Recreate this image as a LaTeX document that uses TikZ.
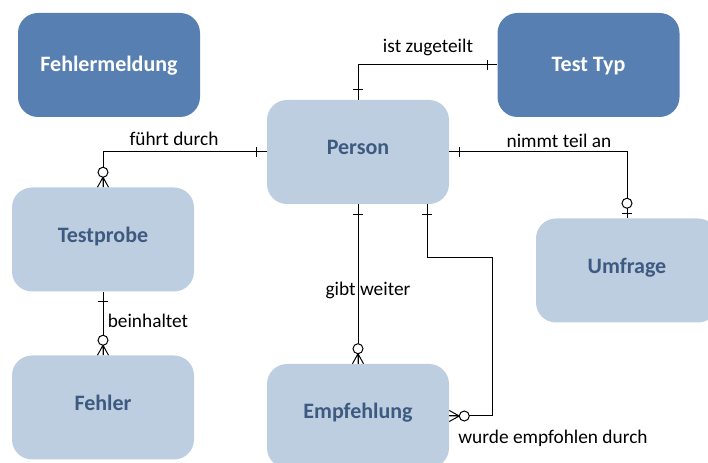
\documentclass[tikz,border=0pt]{standalone}
\usepackage{fontspec}
\setmainfont{Carlito}
\usetikzlibrary{calc}

\definecolor{entdark}{RGB}{87,127,178}
\definecolor{entlight}{RGB}{190,206,225}
\definecolor{enttext}{RGB}{62,90,128}

\tikzset{
	entity/.style={rounded corners=15pt, minimum width=136.5pt, minimum height=78pt, inner sep=0pt, text height=12pt, font=\fontsize{16.5}{19}\selectfont\bfseries},
	strong/.style={entity, text depth=1.5pt, fill=entdark, text=white},
	weak/.style={entity, text depth=7.5pt, fill=entlight, text=enttext},
	rel/.style={draw=black, line width=0.75pt},
	lbl/.style={inner sep=0pt, font=\fontsize{14.5}{17}\selectfont},
	one/.pic={\draw[rel] (10,-5) -- (10,5);},
	one opt/.pic={
		\draw[rel] (5,-5) -- (5,5);
		\draw[rel, fill=white] (15,0) circle[radius=5];
	},
	many opt/.pic={
		\draw[rel] (0,-5.5) -- (10,0) -- (0,5.5) (0,0) -- (10,0);
		\draw[rel, fill=white] (15,0) circle[radius=5];
	},
}

\begin{document}
\begin{tikzpicture}[x=0.75pt,y=-0.75pt]
\useasboundingbox (0,0) rectangle (708,463);
\clip (0,0) rectangle (708,463);

\node[strong] (fehlermeldung) at (109,65) {Fehlermeldung};
\node[strong] (testtyp) at (588.5,65) {Test Typ};
\node[weak] (person) at (358,152) {Person};
\node[weak] (testprobe) at (103,239.5) {Testprobe};
\node[weak] (fehler) at (103,407.5) {Fehler};
\node[weak] (empfehlung) at (358,416) {Empfehlung};
\node[weak] (umfrage) at (627,270.5) {Umfrage};

\draw[rel] (person.north) |- (testtyp.west);
\draw[rel] (person.west) -| (testprobe.north);
\draw[rel] (person.east) -| (umfrage.north);
\draw[rel] (testprobe.south) -- (fehler.north);
\draw[rel] (person.south) -- (empfehlung.north);
\draw[rel] ($(person.south)+(69,0)$) coordinate (recstart) -- ++(0,53) -| ($(empfehlung.east)+(43,0)$) -- (empfehlung.east);

% cardinality marks
\path (person.north) pic[rotate=90] {one}
	(testtyp.west) pic[rotate=180] {one}
	(person.west) pic[rotate=180] {one}
	(testprobe.north) pic[rotate=90] {many opt}
	(person.east) pic {one}
	(umfrage.north) pic[rotate=90] {one opt}
	(testprobe.south) pic[rotate=-90] {one}
	(fehler.north) pic[rotate=90] {many opt}
	(person.south) pic[rotate=-90] {one}
	(empfehlung.north) pic[rotate=90] {many opt}
	(recstart) pic[rotate=-90] {one}
	(empfehlung.east) pic {many opt};

\node[lbl] (zugeteilt) at (428,47) {ist zugeteilt};
\node[lbl] (durch) at (174,139) {führt durch};
\node[lbl] (teilnahme) at (559,141) {nimmt teil an};
\node[lbl] (beinhaltet) at (148,321) {beinhaltet};
\node[lbl] (weiter) at (368,290) {gibt weiter};
\node[lbl] (empfohlen) at (553,438) {wurde empfohlen durch};
\end{tikzpicture}
\end{document}
